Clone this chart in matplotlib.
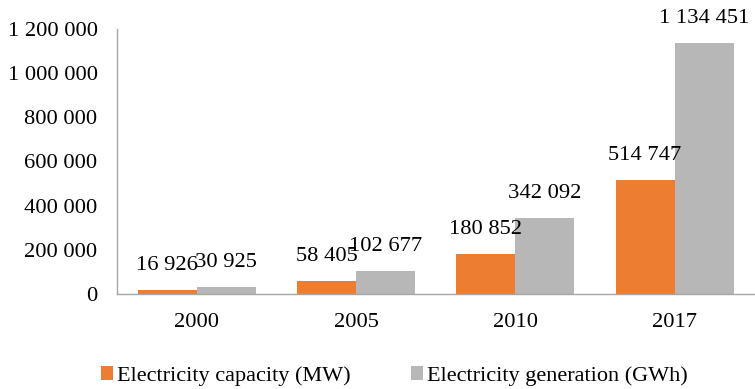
import matplotlib
matplotlib.use("Agg")
import matplotlib.pyplot as plt
import numpy as np

years = ["2000", "2005", "2010", "2017"]
capacity_mw = [16926, 58405, 180852, 514747]
generation_gwh = [30925, 102677, 342092, 1134451]
series_names = ["Electricity capacity (MW)", "Electricity generation (GWh)"]
y_ticks = [0, 200000, 400000, 600000, 800000, 1000000, 1200000]

plt.rcParams["font.family"] = ["Liberation Serif", "DejaVu Serif"]

def fmt(v):
    return f"{v:,}".replace(",", " ")

fig = plt.figure(figsize=(7.55, 3.89), dpi=100)
ax = fig.add_axes([117 / 755, 1 - 294 / 389, 1 - 117 / 755 - 0.001, (294 - 29) / 389])

x = np.arange(len(years))
w = 0.37
orange = "#ED7D31"
gray = "#B7B7B7"
num_size = 16.2
b1 = ax.bar(x - w / 2, capacity_mw, w, color=orange, label=series_names[0])
b2 = ax.bar(x + w / 2, generation_gwh, w, color=gray, label=series_names[1])

for bars, vals in ((b1, capacity_mw), (b2, generation_gwh)):
    for rect, v in zip(bars, vals):
        ax.annotate(fmt(v), (rect.get_x() + rect.get_width() / 2, v),
                    xytext=(0, 18), textcoords="offset points",
                    ha="center", va="center", fontsize=num_size, color="black")

ax.set_xlim(-0.5, len(years) - 0.5)
ax.set_ylim(0, 1200000)
ax.set_yticks(y_ticks)
ax.set_yticklabels([fmt(t) for t in y_ticks], fontsize=num_size)
ax.set_xticks(x)
ax.set_xticklabels(years, fontsize=num_size)
ax.tick_params(axis="both", length=0, colors="black")
ax.tick_params(axis="y", pad=14)
ax.tick_params(axis="x", pad=14)

for s in ("top", "right"):
    ax.spines[s].set_visible(False)
for s in ("left", "bottom"):
    ax.spines[s].set_color("#A6A6A6")
    ax.spines[s].set_linewidth(1.0)

fig.legend(handles=[b1, b2], labels=series_names, loc="center",
           bbox_to_anchor=(0.5225, 1 - 376 / 389), ncol=2, frameon=False,
           fontsize=16, handlelength=0.54, handleheight=0.54,
           handletextpad=0.18, columnspacing=2.7, borderpad=0)

fig.savefig("out.png", dpi=100)
